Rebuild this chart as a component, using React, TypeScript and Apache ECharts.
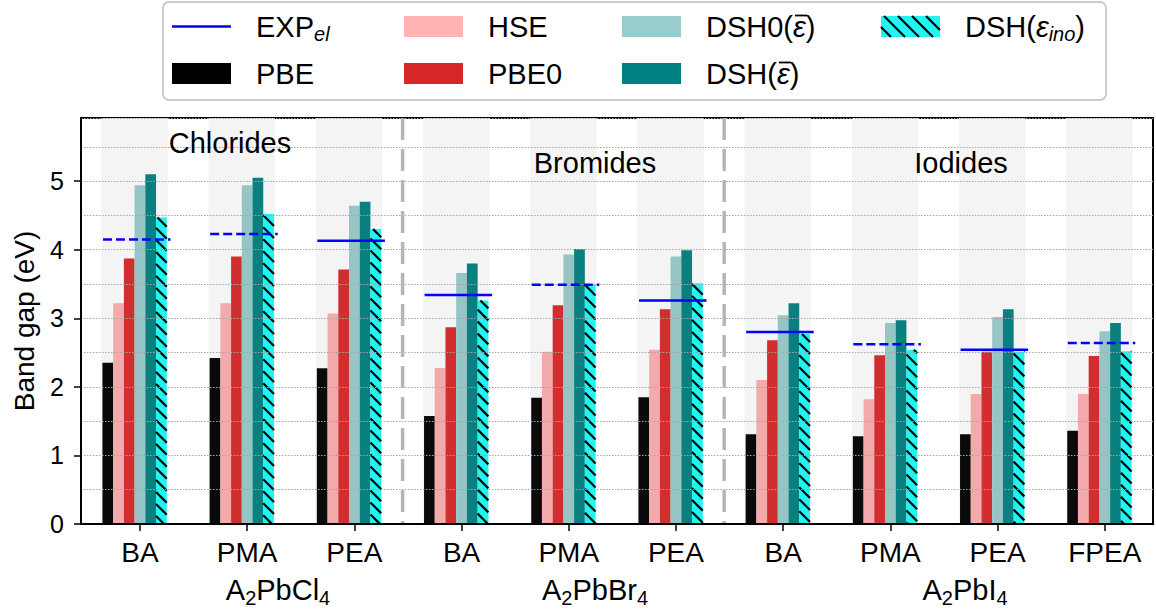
import React, { useEffect, useRef } from "react";
import * as echarts from "echarts";

// ---------------- data ----------------
const categories = ["BA", "PMA", "PEA", "BA", "PMA", "PEA", "BA", "PMA", "PEA", "FPEA"];
const PBE = [2.35, 2.42, 2.27, 1.575, 1.84, 1.85, 1.31, 1.28, 1.31, 1.36];
const HSE = [3.22, 3.22, 3.07, 2.275, 2.51, 2.54, 2.1, 1.82, 1.895, 1.895];
const PBE0 = [3.87, 3.9, 3.71, 2.87, 3.19, 3.13, 2.68, 2.46, 2.51, 2.45];
const DSH0 = [4.94, 4.94, 4.64, 3.66, 3.93, 3.9, 3.045, 2.93, 3.02, 2.81];
const DSH = [5.1, 5.05, 4.7, 3.8, 4.01, 3.99, 3.22, 2.97, 3.13, 2.93];
const DSHino = [4.47, 4.52, 4.3, 3.26, 3.5, 3.51, 2.77, 2.54, 2.51, 2.52];
const EXP = [4.15, 4.23, 4.13, 3.34, 3.49, 3.26, 2.8, 2.62, 2.54, 2.64];
const EXPdashed = [true, true, false, false, true, false, false, true, false, true];
const separators = [2.45, 5.45];
const yTicks = [0, 1, 2, 3, 4, 5];
const xTicks = [0, 1, 2, 3, 4, 5, 6, 7, 8, 9];

// ---------------- layout / style ----------------
const FONT = "'Liberation Sans', Arial, Helvetica, sans-serif";
const Y_MAX = 5.92;
const X_MIN = -0.55;
const X_MAX = 9.45;
const BAR_W = 0.1;
const BAR_START = -0.35;
const HATCH_SP = 12;
const LFS = 29; // legend font size

function hatchSegs(x: number, y: number, w: number, h: number, s: number) {
  const segs: number[][] = [];
  const kmin = Math.floor((x - (y + h)) / s);
  const kmax = Math.ceil((x + w - y) / s);
  for (let k = kmin; k <= kmax; k++) {
    const c = k * s;
    const lo = Math.max(x, y + c);
    const hi = Math.min(x + w, y + h + c);
    if (hi - lo > 0.3) segs.push([lo, lo - c, hi, hi - c]);
  }
  return segs;
}

function hatchElements(x: number, y: number, w: number, h: number, z = 0, sp = HATCH_SP) {
  return hatchSegs(x, y, w, h, sp).map((s) => ({
    type: "line",
    z,
    shape: { x1: s[0], y1: s[1], x2: s[2], y2: s[3] },
    style: { stroke: "#000", lineWidth: 2.2 },
    silent: true,
  }));
}

function barSeries(name: string, values: number[], k: number, color: string, hatch: boolean) {
  return {
    type: "custom",
    name,
    z: 2,
    xAxisIndex: 0,
    yAxisIndex: 0,
    data: values.map((v, i) => [i, v]),
    encode: { x: 0, y: 1 },
    renderItem: (params: any, api: any) => {
      const i = api.value(0);
      const v = api.value(1);
      const x0 = i + BAR_START + k * BAR_W;
      const p0 = api.coord([x0, v]);
      const p1 = api.coord([x0 + BAR_W, 0]);
      const r = { x: p0[0], y: p0[1], width: p1[0] - p0[0], height: p1[1] - p0[1] };
      const children: any[] = [{ type: "rect", shape: r, style: { fill: color } }];
      if (hatch) children.push(...hatchElements(r.x, r.y, r.width, r.height));
      return { type: "group", children };
    },
  };
}

const richBase = {
  n: { fontSize: LFS, fontFamily: FONT, color: "#000" },
  i: { fontSize: LFS, fontFamily: FONT, color: "#000", fontStyle: "italic" },
  s: { fontSize: 20, fontFamily: FONT, color: "#000", padding: [14, 0, 0, 0] },
  si: { fontSize: 20, fontFamily: FONT, color: "#000", fontStyle: "italic", padding: [14, 0, 0, 0] },
};

const richLabel = {
  n: { fontSize: 29, fontFamily: FONT, color: "#000" },
  s: { fontSize: 20, fontFamily: FONT, color: "#000", padding: [15, 0, 0, 0] },
};

const LZ = 20;

function legendText(x: number, y: number, text: string) {
  return {
    type: "text",
    z: LZ + 2,
    x,
    y,
    style: { text, rich: richBase, verticalAlign: "middle", align: "left" },
  };
}

function legendRect(x: number, y: number, color: string, hatch = false) {
  const els: any[] = [
    { type: "rect", z: LZ + 1, shape: { x, y: y - 10.5, width: 59, height: 21 }, style: { fill: color } },
  ];
  if (hatch) els.push(...hatchElements(x, y - 10.5, 59, 21, LZ + 2, 14));
  return els;
}

function overbar(x: number, y: number) {
  return {
    type: "line",
    z: LZ + 2,
    shape: { x1: x, y1: y, x2: x + 12, y2: y },
    style: { stroke: "#000", lineWidth: 1.8 },
  };
}

export default function App() {
  const ref = useRef<HTMLDivElement>(null);
  useEffect(() => {
    if (!ref.current) return;
    const chart = echarts.init(ref.current, null, { renderer: "svg" });

    const r1 = 26.5;
    const r2 = 73.5;
    const graphic: any[] = [
      {
        type: "rect",
        z: LZ,
        shape: { x: 163, y: 2, width: 943, height: 98, r: 6 },
        style: { fill: "#fff", stroke: "#cccccc", lineWidth: 2 },
      },
      { type: "line", z: LZ + 1, shape: { x1: 172, y1: r1, x2: 231, y2: r1 }, style: { stroke: "#0000ff", lineWidth: 2.5 } },
      legendText(256, r1, "{n|EXP}{si|el}"),
      ...legendRect(172, r2, "#000000"),
      legendText(256, r2, "{n|PBE}"),
      ...legendRect(404, r1, "#ffb3b3"),
      legendText(488, r1, "{n|HSE}"),
      ...legendRect(404, r2, "#d62728"),
      legendText(488, r2, "{n|PBE0}"),
      ...legendRect(622, r1, "#99cccc"),
      legendText(706, r1, "{n|DSH0(}{i|\u03B5}{n|)}"),
      overbar(706 + 3.0 * LFS + 2, r1 - 11),
      ...legendRect(622, r2, "#008080"),
      legendText(706, r2, "{n|DSH(}{i|\u03B5}{n|)}"),
      overbar(706 + 2.444 * LFS + 2, r2 - 11),
      ...legendRect(881, r1, "#22f4f4", true),
      legendText(965, r1, "{n|DSH(}{i|\u03B5}{si|ino}{n|)}"),
      // group annotations
      { type: "text", x: 230, y: 143, z: 10, style: { text: "Chlorides", font: `29px ${FONT}`, fill: "#000", align: "center", verticalAlign: "middle" } },
      { type: "text", x: 595, y: 163, z: 10, style: { text: "Bromides", font: `29px ${FONT}`, fill: "#000", align: "center", verticalAlign: "middle" } },
      { type: "text", x: 961, y: 163, z: 10, style: { text: "Iodides", font: `29px ${FONT}`, fill: "#000", align: "center", verticalAlign: "middle" } },
      // compound labels
      { type: "text", x: 278, y: 590, style: { text: "{n|A}{s|2}{n|PbCl}{s|4}", rich: richLabel, align: "center", verticalAlign: "middle" } },
      { type: "text", x: 595, y: 590, style: { text: "{n|A}{s|2}{n|PbBr}{s|4}", rich: richLabel, align: "center", verticalAlign: "middle" } },
      { type: "text", x: 965, y: 590, style: { text: "{n|A}{s|2}{n|PbI}{s|4}", rich: richLabel, align: "center", verticalAlign: "middle" } },
    ];

    const option: any = {
      animation: false,
      backgroundColor: "#fff",
      textStyle: { fontFamily: FONT },
      grid: {
        left: 81,
        right: 3,
        top: 118,
        bottom: 89,
        show: true,
        borderColor: "#000",
        borderWidth: 2,
        backgroundColor: "transparent",
      },
      xAxis: {
        type: "value",
        min: X_MIN,
        max: X_MAX,
        splitNumber: 10,
        z: 6,
        axisLine: { show: true, lineStyle: { color: "#000", width: 2 } },
        axisTick: { show: true, customValues: xTicks, length: 7, lineStyle: { color: "#000", width: 1.5 } },
        axisLabel: {
          show: true,
          customValues: xTicks,
          margin: 14,
          fontSize: 28,
          fontFamily: FONT,
          color: "#000",
          formatter: (v: number) => (Math.abs(v - Math.round(v)) < 1e-6 ? categories[Math.round(v)] ?? "" : ""),
        },
        splitLine: { show: false },
      },
      yAxis: [
        {
          type: "value",
          min: 0,
          max: Y_MAX,
          interval: 0.5,
          z: 3,
          axisLine: { show: false },
          axisTick: { show: false },
          axisLabel: { show: false },
          splitLine: { show: true, lineStyle: { color: "#a6a6a6", width: 1, type: [1.5, 1.5] } },
        },
        {
          type: "value",
          min: 0,
          max: Y_MAX,
          interval: 1,
          position: "left",
          z: 6,
          name: "Band gap (eV)",
          nameLocation: "middle",
          nameGap: 43,
          nameTextStyle: { fontSize: 28, fontFamily: FONT, color: "#000" },
          axisLine: { show: true, lineStyle: { color: "#000", width: 2 } },
          axisTick: { show: true, customValues: yTicks, length: 7, lineStyle: { color: "#000", width: 1.5 } },
          axisLabel: {
            show: true,
            customValues: yTicks,
            margin: 17,
            fontSize: 25,
            fontFamily: FONT,
            color: "#000",
          },
          splitLine: { show: false },
        },
      ],
      graphic,
      series: [
        {
          type: "custom",
          name: "shade",
          z: 1,
          silent: true,
          data: categories.map((_, i) => [i, Y_MAX]),
          encode: { x: 0, y: 1 },
          renderItem: (params: any, api: any) => {
            const i = api.value(0);
            const p0 = api.coord([i + BAR_START - 0.01, Y_MAX]);
            const p1 = api.coord([i + BAR_START + 6 * BAR_W + 0.01, 0]);
            return {
              type: "rect",
              shape: { x: p0[0], y: p0[1], width: p1[0] - p0[0], height: p1[1] - p0[1] },
              style: { fill: "#f4f4f4" },
            };
          },
        },
        barSeries("PBE", PBE, 0, "#0a0a0a", false),
        barSeries("HSE", HSE, 1, "#f3aaaa", false),
        barSeries("PBE0", PBE0, 2, "#d12e2f", false),
        barSeries("DSH0", DSH0, 3, "#96c5c5", false),
        barSeries("DSH", DSH, 4, "#0a7f7f", false),
        barSeries("DSHino", DSHino, 5, "#22f4f4", true),
        {
          type: "custom",
          name: "separators",
          z: 4,
          silent: true,
          data: separators.map((x) => [x, Y_MAX]),
          encode: { x: 0, y: 1 },
          renderItem: (params: any, api: any) => {
            const x = api.value(0);
            const p0 = api.coord([x, Y_MAX]);
            const p1 = api.coord([x, 0]);
            return {
              type: "line",
              shape: { x1: p0[0], y1: p0[1], x2: p1[0], y2: p1[1] },
              style: { stroke: "#b5b5b5", lineWidth: 3.5, lineDash: [22, 9] },
            };
          },
        },
        {
          type: "custom",
          name: "EXP",
          z: 5,
          data: EXP.map((v, i) => [i, v, EXPdashed[i] ? 1 : 0]),
          encode: { x: 0, y: 1 },
          renderItem: (params: any, api: any) => {
            const i = api.value(0);
            const v = api.value(1);
            const dashed = api.value(2) === 1;
            const p0 = api.coord([i - 0.345, v]);
            const p1 = api.coord([i + 0.285, v]);
            return {
              type: "line",
              shape: { x1: p0[0], y1: p0[1], x2: p1[0], y2: p1[1] },
              style: { stroke: "#0000ff", lineWidth: 2.5, lineDash: dashed ? [9, 4] : null },
            };
          },
        },
      ],
    };
    chart.setOption(option);
    return () => chart.dispose();
  }, []);

  return (
    <div
      ref={ref}
      style={{ position: "fixed", left: 0, top: 0, width: 1156, height: 613, background: "#fff" }}
    />
  );
}
